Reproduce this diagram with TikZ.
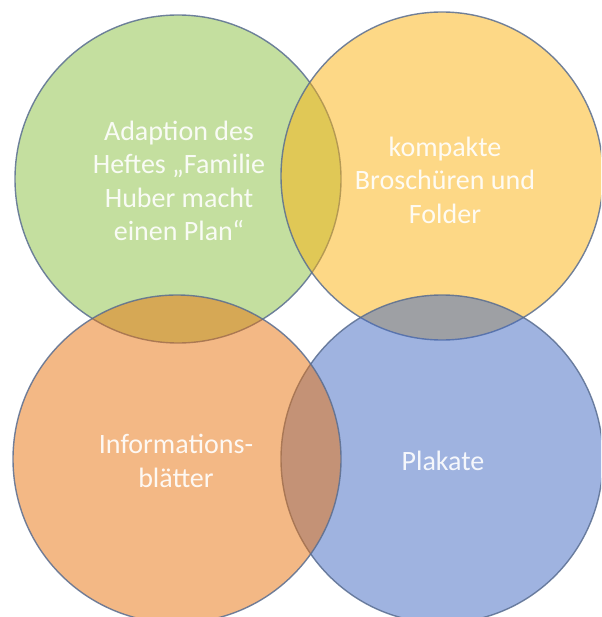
\documentclass[tikz,border=0pt]{standalone}
\usepackage{fontspec}
\setmainfont{Carlito}
\usetikzlibrary{shapes.geometric}
\definecolor{cgreen}{RGB}{139,193,65}
\definecolor{cyellow}{RGB}{253,179,15}
\definecolor{cblue}{RGB}{65,105,195}
\definecolor{corange}{RGB}{233,115,13}
\definecolor{cline}{RGB}{90,110,145}
\begin{document}
\begin{tikzpicture}[x=1pt,y=-1pt,
  venn/.style={ellipse, minimum height=328pt, inner sep=0pt, fill opacity=0.5, draw=cline, draw opacity=0.85, line width=1.4pt},
  lbl/.style={text=white, text opacity=0.9, align=center, font=\fontsize{28}{33.5}\selectfont}]
\useasboundingbox (0,0) rectangle (601,617);
\clip (0,0) rectangle (601,617);
\fill[white] (0,0) rectangle (601,617);
\node[venn, minimum width=326pt, fill=cgreen] (green) at (178,179) {};
\node[venn, minimum width=322pt, fill=cyellow] (yellow) at (442,176) {};
\node[venn, minimum width=322pt, fill=cblue] (blue) at (442,459) {};
\node[venn, minimum width=328pt, fill=corange] (orange) at (177,459) {};
\node[lbl] (tgreen) at (179,181) {Adaption des\\Heftes „Familie\\Huber macht\\einen Plan“};
\node[lbl] (tyellow) at (445,180) {kompakte\\Broschüren und\\Folder};
\node[lbl] (torange) at (176,461) {Informations-\\blätter};
\node[lbl] (tblue) at (443,461) {Plakate};
\end{tikzpicture}
\end{document}
